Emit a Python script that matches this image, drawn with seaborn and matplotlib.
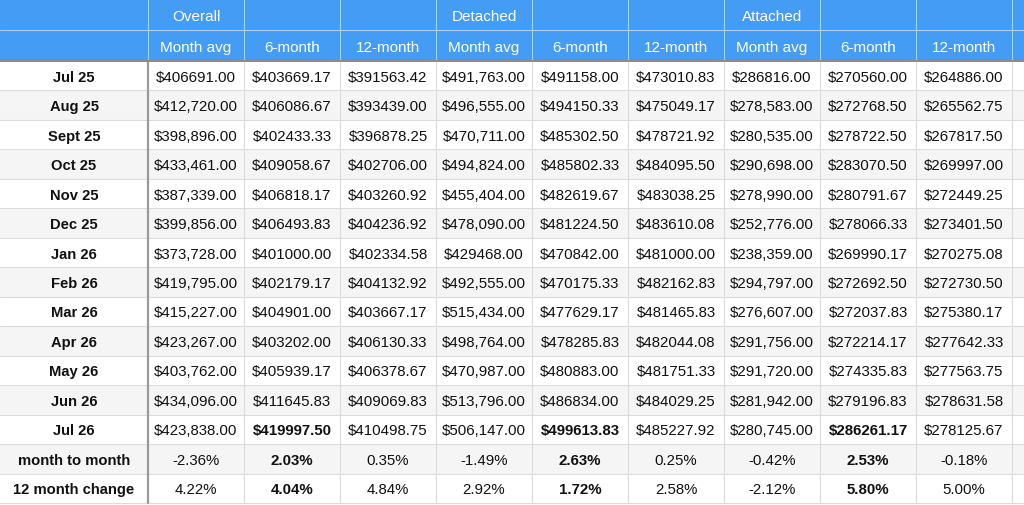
import matplotlib
matplotlib.use("Agg")
import matplotlib.pyplot as plt
from matplotlib.patches import Rectangle
import seaborn as sns

sns.set_style("white")
plt.rcParams['font.family'] = ['Liberation Sans', 'DejaVu Sans']

groups = ["Overall", "", "", "Detached", "", "", "Attached", "", ""]
subheaders = ["Month avg", "6-month", "12-month"] * 3
months = ["Jul 25", "Aug 25", "Sept 25", "Oct 25", "Nov 25", "Dec 25", "Jan 26",
          "Feb 26", "Mar 26", "Apr 26", "May 26", "Jun 26", "Jul 26"]
overall_avg = ["$406691.00", "$412,720.00", "$398,896.00", "$433,461.00", "$387,339.00", "$399,856.00", "$373,728.00",
               "$419,795.00", "$415,227.00", "$423,267.00", "$403,762.00", "$434,096.00", "$423,838.00"]
overall_6 = ["$403669.17", "$406086.67", "$402433.33", "$409058.67", "$406818.17", "$406493.83", "$401000.00",
             "$402179.17", "$404901.00", "$403202.00", "$405939.17", "$411645.83", "$419997.50"]
overall_12 = ["$391563.42", "$393439.00", "$396878.25", "$402706.00", "$403260.92", "$404236.92", "$402334.58",
              "$404132.92", "$403667.17", "$406130.33", "$406378.67", "$409069.83", "$410498.75"]
det_avg = ["$491,763.00", "$496,555.00", "$470,711.00", "$494,824.00", "$455,404.00", "$478,090.00", "$429468.00",
           "$492,555.00", "$515,434.00", "$498,764.00", "$470,987.00", "$513,796.00", "$506,147.00"]
det_6 = ["$491158.00", "$494150.33", "$485302.50", "$485802.33", "$482619.67", "$481224.50", "$470842.00",
         "$470175.33", "$477629.17", "$478285.83", "$480883.00", "$486834.00", "$499613.83"]
det_12 = ["$473010.83", "$475049.17", "$478721.92", "$484095.50", "$483038.25", "$483610.08", "$481000.00",
          "$482162.83", "$481465.83", "$482044.08", "$481751.33", "$484029.25", "$485227.92"]
att_avg = ["$286816.00", "$278,583.00", "$280,535.00", "$290,698.00", "$278,990.00", "$252,776.00", "$238,359.00",
           "$294,797.00", "$276,607.00", "$291,756.00", "$291,720.00", "$281,942.00", "$280,745.00"]
att_6 = ["$270560.00", "$272768.50", "$278722.50", "$283070.50", "$280791.67", "$278066.33", "$269990.17",
         "$272692.50", "$272037.83", "$272214.17", "$274335.83", "$279196.83", "$286261.17"]
att_12 = ["$264886.00", "$265562.75", "$267817.50", "$269997.00", "$272449.25", "$273401.50", "$270275.08",
          "$272730.50", "$275380.17", "$277642.33", "$277563.75", "$278631.58", "$278125.67"]
summary_labels = ["month to month", "12 month change"]
mtm = ["-2.36%", "2.03%", "0.35%", "-1.49%", "2.63%", "0.25%", "-0.42%", "2.53%", "-0.18%"]
yoy = ["4.22%", "4.04%", "4.84%", "2.92%", "1.72%", "2.58%", "-2.12%", "5.80%", "5.00%"]

columns = [overall_avg, overall_6, overall_12, det_avg, det_6, det_12, att_avg, att_6, att_12]
rows = [[c[i] for c in columns] for i in range(len(months))] + [mtm, yoy]
row_labels = months + summary_labels

W, H = 1024, 506
fig = plt.figure(figsize=(W / 100, H / 100), dpi=100)
ax = fig.add_axes([0, 0, 1, 1])
ax.set_xlim(0, W)
ax.set_ylim(H, 0)
ax.axis("off")

blue = "#449cf4"
lab_w = 148
col_w = 96
xs = [0, lab_w] + [lab_w + col_w * (i + 1) for i in range(10)]
h1, h2 = 31, 62
rh = (504 - h2) / len(rows)

ax.add_patch(Rectangle((0, 0), W, h2, color=blue, lw=0))
for j in range(10):
    x0 = xs[j + 1]
    ax.plot([x0, x0], [0, h2], color="#a9d0fa", lw=0.8)
ax.plot([0, W], [h1, h1], color="#a9d0fa", lw=0.8)
for j in range(9):
    cx = xs[j + 1] + col_w / 2
    if groups[j]:
        ax.text(cx, h1 / 2 + 1, groups[j], color="white", ha="center", va="center", fontsize=11)
    ax.text(cx, (h1 + h2) / 2 + 1, subheaders[j], color="white", ha="center", va="center", fontsize=11)

bold_rows = {len(months) - 1, len(months), len(months) + 1}
for i, (lab, vals) in enumerate(zip(row_labels, rows)):
    y0 = h2 + i * rh
    bg = "white" if i % 2 == 0 else "#f5f5f5"
    ax.add_patch(Rectangle((0, y0), W, rh, color=bg, lw=0))
    ax.plot([0, W], [y0 + rh, y0 + rh], color="#dcdcdc", lw=0.8)
    ax.text(lab_w / 2, y0 + rh / 2 + 1, lab, ha="center", va="center", fontsize=10.6, fontweight="bold", color="#111")
    for j, v in enumerate(vals):
        cx = xs[j + 1] + col_w / 2
        fw = "bold" if (i in bold_rows and j % 3 == 1) else "normal"
        ax.text(cx, y0 + rh / 2 + 1, v, ha="center", va="center", fontsize=10.8, fontweight=fw, color="#111")

for j in range(2, 11):
    ax.plot([xs[j], xs[j]], [h2, h2 + rh * len(rows)], color="#dcdcdc", lw=0.8)
ax.plot([lab_w, lab_w], [h2, h2 + rh * len(rows)], color="#9a9a9a", lw=1.6)
ax.plot([0, W], [h2, h2], color="#8a8a8a", lw=1.4)

fig.savefig("out.png", dpi=100)
